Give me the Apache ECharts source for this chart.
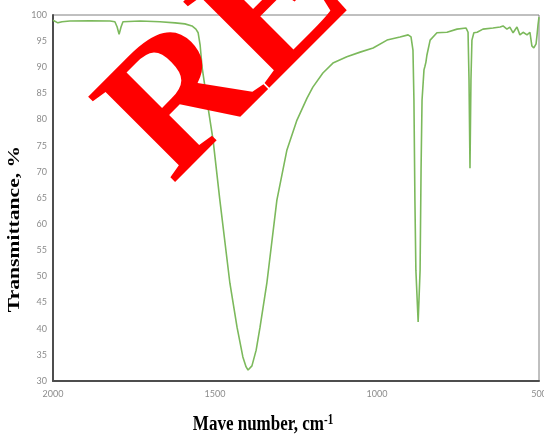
<!DOCTYPE html>
<html>
<head>
<meta charset="utf-8">
<script src="https://cdn.jsdelivr.net/npm/echarts@6/dist/echarts.min.js"></script>
<style>
  html, body { margin: 0; padding: 0; background: #fff; overflow: hidden; }
  #chart { position: absolute; left: 0; top: 0; width: 544px; height: 436px; }
</style>
</head>
<body>
<div id="chart"></div>
<script>
// FT-IR spectrum: wavenumber (cm-1) vs transmittance (%)
const wavenumber = [
  2000, 1994, 1985, 1972, 1948, 1886, 1824, 1809, 1802, 1796, 1790, 1784,
  1731, 1670, 1623, 1593, 1571, 1559, 1552, 1546, 1540, 1525, 1506, 1485,
  1454, 1432, 1414, 1404, 1398, 1392, 1386, 1373, 1361, 1340, 1309, 1278,
  1247, 1216, 1198, 1167, 1136, 1093, 1052, 1012, 969, 929, 904, 895,
  889, 886, 883, 880, 873, 867, 864, 861, 855, 852, 849, 846,
  836, 815, 784, 753, 725, 719, 716, 713, 710, 707, 701, 691,
  673, 642, 620, 611, 599, 590, 580, 568, 559, 549, 537, 528,
  522, 516, 509, 506, 503, 500
];
const transmittance = [
  99.0, 98.85, 98.5, 98.7, 98.85, 98.9, 98.85, 98.7, 97.7, 96.3, 97.7, 98.7,
  98.85, 98.7, 98.5, 98.3, 97.9, 97.3, 96.6, 94.3, 90.1, 83.7, 76.1, 64.6,
  48.7, 40.3, 34.6, 32.7, 32.1, 32.1, 32.9, 35.9, 40.3, 48.7, 64.6, 74.2,
  79.9, 84.1, 86.2, 88.9, 90.8, 92.0, 92.9, 93.7, 95.2, 95.8, 96.2, 95.8,
  93.3, 83.7, 64.6, 51.2, 41.3, 51.2, 70.4, 83.7, 89.5, 90.2, 91.0, 92.3,
  95.2, 96.6, 96.7, 97.3, 97.5, 96.7, 87.6, 70.7, 87.6, 95.2, 96.6, 96.7,
  97.3, 97.5, 97.7, 97.9, 97.3, 97.7, 96.6, 97.7, 96.2, 96.7, 96.2, 96.7,
  94.1, 93.7, 94.5, 96.2, 98.1, 99.6
];
const xTicks = [500, 1000, 1500, 2000];
const yTicks = [30, 35, 40, 45, 50, 55, 60, 65, 70, 75, 80, 85, 90, 95, 100];

const spectrum = wavenumber.map((w, i) => [w, transmittance[i]]);

const chart = echarts.init(document.getElementById('chart'), null, {
  renderer: 'canvas', width: 544, height: 436
});

const tickFont = { color: '#8c8c8c', fontSize: 9, fontFamily: 'Lato' };

chart.setOption({
  animation: false,
  backgroundColor: '#ffffff',
  grid: {
    left: 53, right: 5, top: 15, bottom: 55,
    containLabel: false,
    outerBoundsMode: 'none',
    show: true, borderColor: '#808080', borderWidth: 1
  },
  xAxis: {
    type: 'value', inverse: true,
    min: xTicks[0], max: xTicks[xTicks.length - 1], interval: 500,
    axisLine: { show: true, onZero: false, lineStyle: { color: '#4d4d4d', width: 2 } },
    axisTick: { show: false },
    splitLine: { show: false },
    axisLabel: Object.assign({ margin: 9, formatter: v => String(v) }, tickFont)
  },
  yAxis: {
    type: 'value',
    min: yTicks[0], max: yTicks[yTicks.length - 1], interval: 5,
    axisLine: { show: true, lineStyle: { color: '#4d4d4d', width: 2 } },
    axisTick: { show: false },
    splitLine: { show: false },
    axisLabel: Object.assign({ margin: 6, formatter: v => String(v) }, tickFont)
  },
  series: [{
    type: 'line',
    data: spectrum,
    showSymbol: false,
    lineStyle: { color: '#7cb95c', width: 1.6 },
    z: 2
  }],
  graphic: [
    {
      type: 'text',
      x: 15, y: 229,
      rotation: Math.PI / 2,
      scaleX: 1.27,
      z: 10,
      style: {
        text: 'Transmittance, %',
        fontFamily: 'Liberation Serif', fontWeight: 'bold', fontSize: 17,
        fill: '#000', align: 'center', verticalAlign: 'middle'
      }
    },
    {
      type: 'text',
      x: 263, y: 424,
      scaleY: 1.27,
      z: 10,
      style: {
        text: '{a|Mave number, cm}{s|-1}',
        align: 'center', verticalAlign: 'middle',
        rich: {
          a: { fontFamily: 'Liberation Serif', fontWeight: 'bold', fontSize: 17, fill: '#000' },
          s: { fontFamily: 'Liberation Serif', fontWeight: 'bold', fontSize: 11, fill: '#000', verticalAlign: 'top' }
        }
      }
    },
    {
      type: 'text',
      x: 138, y: 151,
      rotation: Math.PI / 4,
      z: 100,
      style: {
        text: 'RE',
        fontFamily: 'Liberation Serif', fontWeight: 'bold', fontSize: 186,
        fill: '#ff0000', align: 'left', verticalAlign: 'middle'
      }
    }
  ]
});
</script>
</body>
</html>
